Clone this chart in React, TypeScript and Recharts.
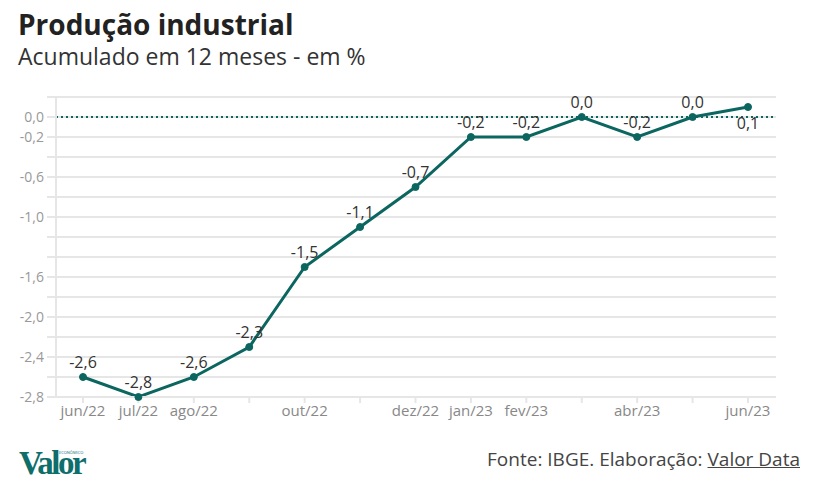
import { LineChart, Line, XAxis, YAxis, CartesianGrid, ReferenceLine, LabelList } from 'recharts';

const months = ['jun/22', 'jul/22', 'ago/22', 'set/22', 'out/22', 'nov/22', 'dez/22', 'jan/23', 'fev/23', 'mar/23', 'abr/23', 'mai/23', 'jun/23'];
const values = [-2.6, -2.8, -2.6, -2.3, -1.5, -1.1, -0.7, -0.2, -0.2, 0.0, -0.2, 0.0, 0.1];
const shownMonths = ['jun/22', 'jul/22', 'ago/22', 'out/22', 'dez/22', 'jan/23', 'fev/23', 'abr/23', 'jun/23'];
const yTicks = [0.2, 0, -0.2, -0.4, -0.6, -0.8, -1.0, -1.2, -1.4, -1.6, -1.8, -2.0, -2.2, -2.4, -2.6, -2.8];
const yLabels = [0, -0.2, -0.6, -1.0, -1.6, -2.0, -2.4, -2.8];

const TEAL = '#0b6660';
const GRID = '#e6e6e6';
const FONT = '"Open Sans", "Noto Sans", sans-serif';

const fmt = (v: number) => v.toFixed(1).replace('.', ',');

const chartData = months.map((m, i) => ({ month: m, value: values[i] }));

function PointLabel(props: any) {
  const { x, y, value, index } = props;
  const below = index === values.length - 1;
  return (
    <text
      x={x}
      y={below ? y + 22 : y - 9}
      textAnchor="middle"
      fontSize={16}
      fill="#333"
      fontFamily={FONT}
    >
      {fmt(value)}
    </text>
  );
}

export default function App() {
  return (
    <div style={{ position: 'absolute', left: 0, top: 0, width: 829, height: 502, background: '#fff', fontFamily: FONT }}>
      <div style={{ position: 'absolute', left: 18, top: 5, fontSize: 28, fontWeight: 700, color: '#222', whiteSpace: 'nowrap' }}>
        Produção industrial
      </div>
      <div style={{ position: 'absolute', left: 18, top: 40, fontSize: 23, color: '#333', whiteSpace: 'nowrap' }}>
        Acumulado em 12 meses - em %
      </div>

      <div style={{ position: 'absolute', left: 0, top: 80 }}>
        <LineChart width={829} height={350} data={chartData} margin={{ top: 17, right: 53, bottom: 3, left: 0 }}>
          <CartesianGrid vertical={false} stroke={GRID} strokeWidth={2} />
          <XAxis
            dataKey="month"
            padding={{ left: 27, right: 28 }}
            interval={0}
            height={30}
            tickSize={6}
            axisLine={{ stroke: GRID, strokeWidth: 2 }}
            tickLine={{ stroke: GRID, strokeWidth: 2 }}
            tick={{ fontSize: 15, fill: '#888', fontFamily: FONT }}
            tickFormatter={(m: string) => (shownMonths.includes(m) ? m : '')}
          />
          <YAxis
            width={56}
            domain={[-2.8, 0.2]}
            ticks={yTicks}
            interval={0}
            tickSize={9}
            tickMargin={3}
            axisLine={{ stroke: GRID, strokeWidth: 2 }}
            tickLine={{ stroke: GRID, strokeWidth: 2 }}
            tick={{ fontSize: 14, fill: '#999', fontFamily: FONT }}
            tickFormatter={(v: number) =>
              yLabels.some((l) => Math.round(l * 10) === Math.round(v * 10)) ? fmt(v) : ''
            }
          />
          <ReferenceLine y={0} stroke={TEAL} strokeWidth={2} strokeDasharray="2 3" />
          <Line
            type="linear"
            dataKey="value"
            stroke={TEAL}
            strokeWidth={3}
            dot={{ r: 3.5, fill: TEAL, stroke: TEAL, strokeWidth: 1 }}
            isAnimationActive={false}
          >
            <LabelList dataKey="value" content={PointLabel} />
          </Line>
        </LineChart>
      </div>

      <div style={{ position: 'absolute', left: 19, top: 447, lineHeight: 1, fontFamily: '"Liberation Serif", serif', fontWeight: 700, fontSize: 33, color: '#0e6e6b', letterSpacing: -2.5 }}>
        Valor
      </div>
      <div style={{ position: 'absolute', left: 59, top: 451, fontSize: 4, lineHeight: 1, color: '#0e6e6b' }}>
        ECONÔMICO
      </div>
      <div style={{ position: 'absolute', right: 29, top: 446, fontSize: 19, color: '#444', whiteSpace: 'nowrap' }}>
        Fonte: IBGE. Elaboração: <span style={{ textDecoration: 'underline' }}>Valor Data</span>
      </div>
    </div>
  );
}
